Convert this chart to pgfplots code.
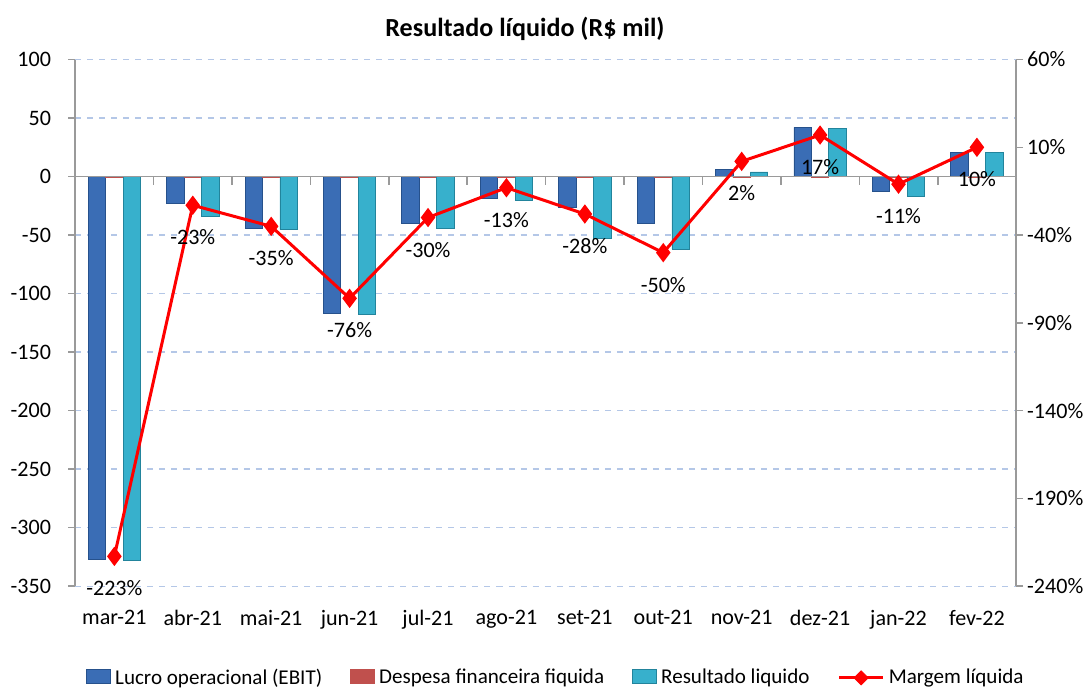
\documentclass[border={2pt 0pt 0pt 5pt}]{standalone}
\usepackage{fontspec}
\setmainfont{Carlito}
\usepackage{pgfplots}
\pgfplotsset{compat=1.18}
\definecolor{ebit}{HTML}{3A6DB5}
\definecolor{ebitdark}{HTML}{26518C}
\definecolor{desp}{HTML}{C0504D}
\definecolor{res}{HTML}{37B0CC}
\definecolor{resdark}{HTML}{22849C}
\definecolor{gridblue}{HTML}{B4C7E7}
\definecolor{axisgray}{HTML}{9A9A9A}
\begin{document}
\begin{tikzpicture}
\begin{axis}[
  width=469pt, height=262.5pt, scale only axis,
  xmin=-0.5, xmax=11.5, ymin=-350, ymax=100,
  axis y line*=left, axis x line*=bottom,
  x axis line style={draw=none},
  y axis line style={axisgray, line width=0.8pt},
  ytick={-350,-300,...,100},
  xtick={0,...,11},
  xticklabels={mar-21,abr-21,mai-21,jun-21,jul-21,ago-21,set-21,out-21,nov-21,dez-21,jan-22,fev-22},
  major x tick style={draw=none},
  ytick style={axisgray, line width=0.8pt},
  tick align=outside, major tick length=3.5pt,
  ymajorgrids, grid style={dashed, gridblue, line width=0.7pt},
  ybar=0pt, bar width=8.7pt,
  /pgf/number format/assume math mode=true,
  ticklabel style={font=\fontsize{11}{13}\selectfont},
  yticklabel style={xshift=-5pt},
  xticklabel style={yshift=-5pt},
  title={\textbf{Resultado líquido (R\$ mil)}},
  title style={font=\fontsize{13}{15}\selectfont, at={(0.478,1)}, anchor=center, yshift=9.5pt},
  legend style={at={(0.512,-0.174)}, anchor=center, legend columns=4, draw=none,
    font=\fontsize{10.5}{12}\selectfont,
    /tikz/every even column/.append style={column sep=12pt}},
  legend image code/.code={\draw[#1] (0pt,-3pt) rectangle (12pt,4pt);},
]
\addplot[fill=ebit, draw=ebitdark] coordinates {
(0,-327) (1,-23) (2,-44) (3,-117) (4,-40) (5,-19) (6,-26) (7,-40) (8,6) (9,42) (10,-13) (11,21)
};
\addlegendentry{Lucro operacional (EBIT)}
\addplot[fill=desp, draw=desp] coordinates {
(0,-1) (1,-1) (2,-1) (3,-1) (4,-1) (5,-1) (6,-1) (7,-1) (8,-1) (9,-1) (10,-1) (11,-1)
};
\addlegendentry{Despesa financeira fiquida}
\addplot[fill=res, draw=resdark] coordinates {
(0,-328) (1,-34) (2,-45) (3,-118) (4,-44) (5,-20) (6,-53) (7,-62) (8,4) (9,41) (10,-17) (11,21)
};
\addlegendentry{Resultado liquido}
\addlegendimage{legend image code/.code={
  \draw[red, line width=1.5pt] (0pt,0pt) -- (22pt,0pt);
  \fill[red] (11pt,0pt) +(0,3.5pt) -- +(3.5pt,0) -- +(0,-3.5pt) -- +(-3.5pt,0) -- cycle;}}
\addlegendentry{Margem líquida}
\draw[axisgray, line width=0.8pt] (axis cs:-0.5,0) -- (axis cs:11.5,0);
\pgfplotsinvokeforeach{0.5,1.5,...,10.5}{
  \draw[axisgray, line width=0.8pt] (axis cs:#1,0) -- ++(0pt,-4pt);
}
\end{axis}
\begin{axis}[
  width=469pt, height=262.5pt, scale only axis,
  xmin=-0.5, xmax=11.5, ymin=-240, ymax=60,
  axis y line*=right, axis x line=none,
  y axis line style={axisgray, line width=0.8pt},
  ytick={-240,-190,...,60},
  yticklabel={\pgfmathprintnumber{\tick}\%},
  ytick style={axisgray, line width=0.8pt},
  tick align=outside, major tick length=3.5pt,
  /pgf/number format/assume math mode=true,
  ticklabel style={font=\fontsize{11}{13}\selectfont},
  yticklabel style={xshift=-1.5pt},
]
\addplot[red, line width=1.5pt, mark=diamond*, mark size=3.6pt,
  mark options={fill=red, draw=red},
  nodes near coords, point meta=explicit symbolic,
  every node near coord/.append style={anchor=center, yshift=-16pt, text=black,
    font=\fontsize{11}{13}\selectfont}]
coordinates {
(0,-223) [-223\%]
(1,-23) [-23\%]
(2,-35) [-35\%]
(3,-76) [-76\%]
(4,-30) [-30\%]
(5,-13) [-13\%]
(6,-28) [-28\%]
(7,-50) [-50\%]
(8,2) [2\%]
(9,17) [17\%]
(10,-11) [-11\%]
(11,10) [10\%]
};
\end{axis}
\end{tikzpicture}
\end{document}
